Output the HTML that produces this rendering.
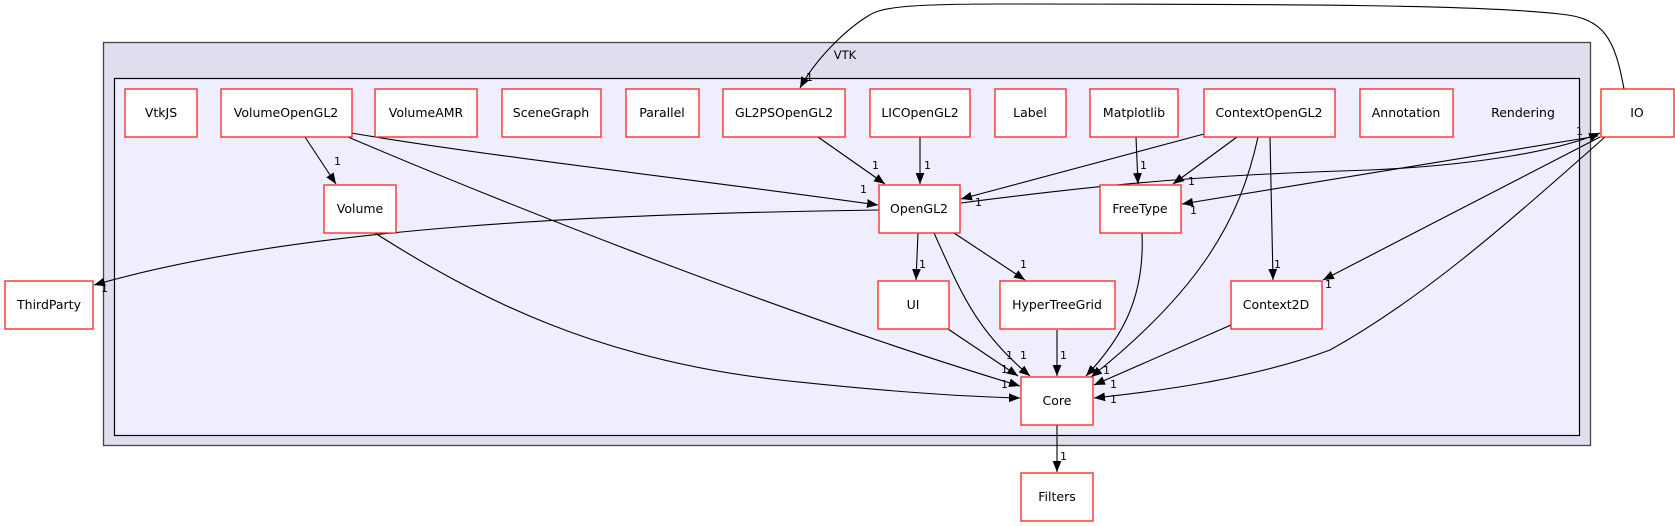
<!DOCTYPE html>
<html><head><meta charset="utf-8"><style>
html,body{margin:0;padding:0;background:#fff;}
svg{display:block;}
text{font-family:"DejaVu Sans","Liberation Sans",sans-serif;}
.n{fill:#fff;stroke:#ff2020;stroke-width:1.3;}
.t{font-size:12.5px;fill:#000;text-anchor:middle;}
.l{font-size:11px;fill:#000;}
.e{fill:none;stroke:#000;stroke-width:1.1;marker-end:url(#a);}
</style></head><body>
<svg width="1675" height="526" viewBox="0 0 1675 526" xmlns="http://www.w3.org/2000/svg">
<defs><marker id="a" viewBox="0 0 10 10" refX="10" refY="5" markerWidth="11" markerHeight="11" markerUnits="userSpaceOnUse" orient="auto"><path d="M0,1 L10,5 L0,9 z" fill="#000"/></marker></defs>
<rect x="103.5" y="42.5" width="1487" height="403" fill="#dedeee" stroke="#444" stroke-width="1.3"/>
<text x="845" y="59" class="t" style="font-size:11.5px">VTK</text>
<rect x="114.5" y="78.5" width="1465" height="357" fill="#eeeeff" stroke="#000" stroke-width="1.2"/>
<text x="1523" y="117" class="t">Rendering</text>

<!-- edges -->
<path class="e" d="M1624,89 C1615,40 1605,18 1560,14 C1480,5 1300,4 1000,4 C900,4 880,8 868,16 C845,30 815,60 800,88"/>
<path class="e" d="M305,137 L336,184"/>
<path class="e" d="M351,133 C500,158 700,180 878,205"/>
<path class="e" d="M348,137 C520,210 800,320 1020,386"/>
<path class="e" d="M879,210 C600,214 300,226 94,285"/>
<path class="e" d="M375,233 C480,300 600,360 780,380 C900,393 980,397 1020,398"/>
<path class="e" d="M818,137 L885,184"/>
<path class="e" d="M920,137 L920,184"/>
<path class="e" d="M1204,134 L961,199"/>
<path class="e" d="M1136,137 L1138,184"/>
<path class="e" d="M1237,137 L1173,184"/>
<path class="e" d="M1258,137 C1240,220 1200,290 1091,377"/>
<path class="e" d="M1270,137 L1273,280"/>
<path class="e" d="M961,203 C1100,185 1200,175 1370,170 C1480,165 1560,150 1600,133"/>
<path class="e" d="M1598,136 L1182,204"/>
<path class="e" d="M1600,137 L1323,280"/>
<path class="e" d="M1605,137 C1500,230 1420,300 1330,350 C1250,380 1150,392 1094,398"/>
<path class="e" d="M918,233 L916,280"/>
<path class="e" d="M954,233 L1025,280"/>
<path class="e" d="M934,233 C960,290 975,330 1030,376"/>
<path class="e" d="M948,329 L1018,376"/>
<path class="e" d="M1057,330 L1057,376"/>
<path class="e" d="M1142,233 C1145,300 1120,340 1086,376"/>
<path class="e" d="M1231,325 L1094,385"/>
<path class="e" d="M1057,425 L1057,472"/>

<!-- labels -->
<g class="l">
<text x="806" y="81">1</text>
<text x="334" y="165">1</text>
<text x="860" y="193">1</text>
<text x="101" y="292">1</text>
<text x="872" y="169">1</text>
<text x="924" y="169">1</text>
<text x="975" y="206">1</text>
<text x="1140" y="169">1</text>
<text x="1188" y="185">1</text>
<text x="1274" y="268">1</text>
<text x="1576" y="135">1</text>
<text x="1190" y="214">1</text>
<text x="1325" y="288">1</text>
<text x="919" y="268">1</text>
<text x="1020" y="268">1</text>
<text x="1006" y="359">1</text>
<text x="1020" y="359">1</text>
<text x="1001" y="373">1</text>
<text x="1001" y="388">1</text>
<text x="1060" y="359">1</text>
<text x="1103" y="374">1</text>
<text x="1110" y="388">1</text>
<text x="1110" y="403">1</text>
<text x="1060" y="460">1</text>
</g>

<!-- nodes -->
<rect class="n" x="125" y="89" width="72" height="48"/><text class="t" x="161" y="117">VtkJS</text>
<rect class="n" x="221" y="89" width="131" height="48"/><text class="t" x="286" y="117">VolumeOpenGL2</text>
<rect class="n" x="375" y="89" width="102" height="48"/><text class="t" x="426" y="117">VolumeAMR</text>
<rect class="n" x="502" y="89" width="99" height="48"/><text class="t" x="551" y="117">SceneGraph</text>
<rect class="n" x="626" y="89" width="73" height="48"/><text class="t" x="662" y="117">Parallel</text>
<rect class="n" x="723" y="89" width="122" height="48"/><text class="t" x="784" y="117">GL2PSOpenGL2</text>
<rect class="n" x="870" y="89" width="100" height="48"/><text class="t" x="920" y="117">LICOpenGL2</text>
<rect class="n" x="995" y="89" width="71" height="48"/><text class="t" x="1030" y="117">Label</text>
<rect class="n" x="1090" y="89" width="88" height="48"/><text class="t" x="1134" y="117">Matplotlib</text>
<rect class="n" x="1204" y="89" width="131" height="48"/><text class="t" x="1269" y="117">ContextOpenGL2</text>
<rect class="n" x="1360" y="89" width="93" height="48"/><text class="t" x="1406" y="117">Annotation</text>
<rect class="n" x="1601" y="89" width="73" height="48"/><text class="t" x="1637" y="117">IO</text>
<rect class="n" x="324" y="185" width="72" height="48"/><text class="t" x="360" y="213">Volume</text>
<rect class="n" x="879" y="185" width="81" height="48"/><text class="t" x="919" y="213">OpenGL2</text>
<rect class="n" x="1100" y="185" width="81" height="48"/><text class="t" x="1140" y="213">FreeType</text>
<rect class="n" x="5" y="281" width="88" height="48"/><text class="t" x="49" y="309">ThirdParty</text>
<rect class="n" x="878" y="281" width="71" height="48"/><text class="t" x="913" y="309">UI</text>
<rect class="n" x="1000" y="281" width="115" height="48"/><text class="t" x="1057" y="309">HyperTreeGrid</text>
<rect class="n" x="1231" y="281" width="91" height="48"/><text class="t" x="1276" y="309">Context2D</text>
<rect class="n" x="1021" y="377" width="72" height="48"/><text class="t" x="1057" y="405">Core</text>
<rect class="n" x="1021" y="473" width="72" height="48"/><text class="t" x="1057" y="501">Filters</text>
</svg>
</body></html>
